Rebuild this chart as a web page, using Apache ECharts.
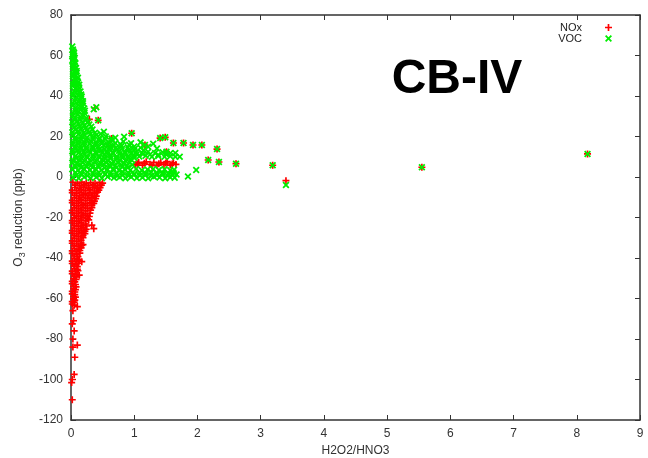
<!DOCTYPE html>
<html><head><meta charset="utf-8">
<script src="https://cdn.jsdelivr.net/npm/echarts@6/dist/echarts.min.js"></script>
<style>html,body{margin:0;padding:0;background:#fff}#c{width:648px;height:458px}</style>
</head><body><div id="c"></div>
<script>
const seriesNames = ['NOx', 'VOC'];
const xAxisName = 'H2O2/HNO3';
const chartLabel = 'CB-IV';
const xMin = 0, xMax = 9, xStep = 1;
const yMin = -120, yMax = 80, yStep = 20;

const noxPoints = [
  [0.38,34.0],[0.29,28.5],[0.43,28.0],[0.62,15.0],[0.64,19.0],[0.96,21.6],[1.17,15.8],[1.41,19.2],[1.49,19.6],[1.51,12.5],
  [1.62,16.8],[1.78,16.8],[1.93,15.8],[2.07,15.8],[2.31,13.8],[2.17,8.4],[2.34,7.4],[2.61,6.6],[3.19,5.8],[3.40,-1.8],
  [5.55,4.8],[8.17,11.4],
  [1.02,6.0],[1.07,7.2],[1.13,5.9],[1.19,7.5],[1.25,6.3],[1.31,7.3],[1.36,5.8],[1.42,7.1],[1.47,6.1],[1.52,7.6],[1.57,5.9],[1.62,7.0],[1.66,6.2],
  [1.05,6.6],[1.16,6.8],[1.28,5.6],[1.39,6.5],[1.50,6.9],[1.60,6.4],
  [0.03,-2.6],[0.10,-3.0],[0.17,-2.5],[0.24,-3.1],[0.31,-2.7],[0.38,-3.2],[0.45,-2.6],[0.50,-3.0],
  [0.07,-4.0],[0.14,-4.3],[0.21,-3.8],[0.28,-4.2],[0.35,-3.9],[0.42,-4.4],[0.48,-4.0],
  [0.06,-5.2],[0.13,-5.6],[0.20,-5.0],[0.27,-5.5],[0.34,-5.1],[0.41,-5.7],[0.46,-5.3],
  [0.02,-6.5],[0.09,-6.8],[0.16,-6.3],[0.23,-6.7],[0.30,-6.4],[0.37,-6.9],[0.44,-6.5],
  [0.02,-7.7],[0.09,-8.1],[0.16,-7.6],[0.23,-8.2],[0.30,-7.8],[0.37,-8.0],[0.42,-7.5],
  [0.06,-9.0],[0.13,-9.3],[0.20,-8.8],[0.27,-9.2],[0.34,-8.9],[0.40,-9.4],
  [0.05,-10.2],[0.12,-10.6],[0.19,-10.0],[0.26,-10.5],[0.33,-10.1],[0.39,-10.7],
  [0.02,-11.5],[0.09,-11.8],[0.16,-11.3],[0.23,-11.7],[0.30,-11.4],[0.37,-11.9],
  [0.02,-12.7],[0.09,-13.1],[0.16,-12.6],[0.23,-13.2],[0.30,-12.8],[0.36,-13.0],
  [0.05,-14.0],[0.12,-14.3],[0.19,-13.8],[0.26,-14.2],[0.33,-13.9],
  [0.05,-15.2],[0.12,-15.6],[0.19,-15.0],[0.26,-15.5],[0.33,-15.1],
  [0.02,-16.5],[0.09,-16.8],[0.16,-16.3],[0.23,-16.7],[0.31,-16.4],
  [0.02,-17.7],[0.09,-18.1],[0.16,-17.6],[0.23,-18.2],[0.30,-17.8],
  [0.05,-19.0],[0.12,-19.3],[0.19,-18.8],[0.26,-19.2],
  [0.05,-20.2],[0.12,-20.6],[0.19,-20.0],[0.26,-20.5],[0.29,-19.5],
  [0.02,-21.5],[0.09,-21.8],[0.16,-21.3],[0.23,-21.7],[0.28,-21.2],
  [0.02,-22.7],[0.09,-23.1],[0.16,-22.6],[0.23,-23.2],[0.33,-23.8],
  [0.05,-24.0],[0.12,-24.3],[0.19,-23.8],[0.25,-24.2],
  [0.05,-25.2],[0.12,-25.6],[0.19,-25.0],[0.24,-25.8],[0.36,-25.5],
  [0.02,-26.5],[0.09,-26.8],[0.16,-26.3],[0.22,-26.7],
  [0.02,-27.7],[0.09,-28.1],[0.16,-27.6],[0.22,-28.0],
  [0.05,-29.0],[0.12,-29.3],[0.19,-28.8],
  [0.05,-30.2],[0.12,-30.6],[0.19,-30.0],
  [0.02,-31.5],[0.09,-31.8],[0.16,-31.3],
  [0.02,-32.7],[0.09,-33.1],[0.16,-32.6],[0.19,-33.4],
  [0.05,-34.0],[0.12,-34.3],[0.17,-33.8],
  [0.05,-35.2],[0.12,-35.6],[0.16,-35.0],
  [0.02,-36.5],[0.08,-36.8],[0.14,-36.3],
  [0.02,-37.7],[0.09,-38.1],[0.14,-37.6],
  [0.05,-39.0],[0.11,-39.3],
  [0.05,-40.2],[0.11,-40.6],[0.17,-41.8],
  [0.02,-41.5],[0.08,-41.8],[0.13,-41.2],
  [0.02,-42.7],[0.08,-43.1],[0.12,-42.6],
  [0.05,-44.0],[0.10,-44.3],
  [0.05,-45.2],[0.10,-45.6],
  [0.02,-46.5],[0.07,-46.8],[0.11,-46.3],
  [0.02,-47.7],[0.08,-48.1],[0.13,-48.5],
  [0.05,-49.0],[0.09,-49.3],
  [0.04,-50.2],[0.08,-50.6],
  [0.02,-51.5],[0.06,-51.8],
  [0.02,-52.7],[0.07,-53.1],
  [0.04,-54.0],[0.08,-54.3],
  [0.04,-55.2],[0.07,-55.6],
  [0.02,-56.5],[0.06,-56.8],
  [0.02,-57.7],[0.06,-58.1],
  [0.04,-59.0],[0.07,-59.3],
  [0.04,-60.2],[0.06,-60.8],
  [0.02,-61.5],[0.05,-61.8],
  [0.02,-62.7],[0.05,-63.3],[0.10,-64.0],
  [0.03,-66.0],[0.04,-71.0],[0.02,-72.5],[0.05,-76.0],[0.03,-80.0],[0.10,-83.0],[0.03,-84.0],[0.06,-89.0],
  [0.05,-97.5],[0.02,-100.0],[0.01,-101.5],[0.02,-110.0]
];

const vocPoints = [
  [0.03,-0.2],[0.12,-0.6],[0.21,0.0],[0.31,-0.5],[0.40,-0.1],[0.49,-0.6],[0.58,0.1],[0.68,-0.4],[0.77,-0.1],[0.86,-0.6],
  [0.95,0.0],[1.04,-0.5],[1.13,-0.2],[1.22,-0.6],[1.31,0.1],[1.40,-0.3],[1.49,-0.6],[1.57,-0.1],[1.64,-0.4],
  [0.08,0.8],[0.17,1.1],[0.26,0.6],[0.36,1.0],[0.45,0.7],[0.54,1.2],[0.63,0.8],[0.73,0.5],[0.82,1.0],[0.91,0.6],
  [1.00,1.1],[1.09,0.7],[1.18,1.0],[1.27,0.5],[1.36,0.9],[1.45,1.2],[1.53,0.6],[1.61,1.0],
  [0.07,2.1],[0.16,1.7],[0.26,2.3],[0.35,1.8],[0.44,2.2],[0.54,1.6],[0.63,2.1],[0.72,1.7],[0.82,2.4],[0.91,1.9],
  [1.00,1.6],[1.09,2.2],[1.18,1.8],[1.27,2.3],[1.36,1.7],[1.45,2.1],[1.54,1.6],[1.62,2.2],[1.67,1.2],
  [0.02,3.8],[0.11,3.4],[0.20,4.0],[0.30,3.5],[0.39,3.9],[0.48,3.3],[0.57,3.7],[0.67,4.1],[0.76,3.4],[0.85,3.8],
  [0.94,3.5],[1.03,3.9],[1.12,3.3],[1.21,3.7],[1.30,4.0],[1.39,3.4],[1.48,3.8],[1.57,3.3],[1.63,3.6],
  [0.07,4.8],[0.16,4.6],[0.25,5.0],[0.34,4.7],[0.44,4.9],[0.53,4.5],[0.62,4.9],[0.72,4.7],[0.81,5.0],[0.90,4.6],
  [0.06,5.8],[0.15,6.2],[0.24,5.6],[0.33,6.1],[0.43,5.7],[0.52,6.3],[0.61,5.9],[0.70,5.5],[0.80,6.1],[0.89,5.7],[0.97,6.0],
  [0.02,7.0],[0.10,6.8],[0.19,7.2],[0.28,6.9],[0.38,7.3],[0.47,6.8],[0.56,7.1],[0.65,6.7],[0.74,7.2],[0.84,6.9],[0.93,7.1],
  [0.03,8.1],[0.12,8.5],[0.21,7.9],[0.30,8.4],[0.40,7.8],[0.49,8.6],[0.58,8.1],[0.67,7.7],[0.77,8.4],[0.86,8.0],[0.95,8.6],
  [0.08,9.3],[0.17,9.1],[0.26,9.5],[0.36,9.2],[0.45,9.6],[0.54,9.1],[0.63,9.4],[0.72,9.0],[0.82,9.5],[0.91,9.2],[1.00,9.4],
  [0.07,10.4],[0.16,10.9],[0.25,10.2],[0.35,10.7],[0.44,10.3],[0.53,11.0],[0.62,10.5],[0.72,10.1],[0.81,10.8],[0.90,10.2],
  [0.99,10.6],[1.08,10.1],[1.18,10.5],[1.28,10.0],[1.38,10.4],[1.48,10.0],[1.57,10.3],[1.65,10.0],
  [0.03,11.6],[0.12,11.9],[0.21,11.4],[0.30,11.8],[0.40,11.5],[0.49,11.9],[0.58,11.4],[0.67,11.7],[0.77,11.3],[0.86,11.8],
  [0.95,11.5],[1.04,11.2],[1.14,11.4],[1.25,11.1],[1.38,11.0],[1.50,11.3],
  [0.02,12.7],[0.11,13.2],[0.20,12.5],[0.29,13.0],[0.39,12.4],[0.48,13.1],[0.57,12.6],[0.66,12.2],[0.76,12.9],[0.85,12.4],
  [0.94,13.0],[1.03,12.3],[1.12,12.0],[1.22,12.5],[1.33,11.9],[1.45,12.2],[1.57,11.7],
  [0.07,13.9],[0.16,14.2],[0.25,13.7],[0.35,14.1],[0.44,13.6],[0.53,14.0],[0.62,13.7],[0.72,13.4],[0.81,14.0],[0.91,13.5],
  [1.01,13.9],[1.15,13.3],
  [0.06,15.0],[0.15,15.4],[0.24,14.7],[0.34,15.2],[0.43,14.8],[0.52,15.5],[0.61,14.9],[0.71,14.5],[0.80,15.3],[0.90,14.6],
  [1.00,15.1],[1.10,14.4],[1.22,14.9],[1.36,14.1],
  [0.03,16.1],[0.12,16.4],[0.21,15.9],[0.30,16.3],[0.40,16.0],[0.49,16.5],[0.58,16.1],[0.68,15.8],[0.78,16.3],[0.92,15.9],
  [0.03,17.3],[0.12,17.8],[0.21,17.1],[0.31,17.6],[0.40,17.0],[0.49,17.7],[0.59,17.2],[0.70,16.8],[0.83,17.5],[0.95,16.7],
  [1.10,17.1],[1.30,16.4],
  [0.07,18.4],[0.16,18.7],[0.25,18.2],[0.35,18.6],[0.44,18.3],[0.54,18.8],[0.65,18.2],
  [0.07,19.6],[0.16,20.1],[0.25,19.4],[0.35,19.9],[0.45,19.3],[0.55,20.0],[0.70,19.4],[0.84,19.9],
  [0.03,20.8],[0.12,21.1],[0.21,20.6],[0.30,21.0],[0.40,20.7],[0.47,21.3],
  [0.02,22.1],[0.11,22.6],[0.20,21.9],[0.29,22.4],[0.38,21.8],[0.52,22.3],
  [0.07,23.3],[0.16,23.6],[0.25,23.1],[0.34,23.5],
  [0.05,24.5],[0.14,25.0],[0.23,24.3],[0.32,24.8],
  [0.03,25.7],[0.12,26.0],[0.21,25.5],[0.29,25.9],
  [0.02,27.0],[0.10,27.4],[0.19,26.8],[0.27,27.2],
  [0.06,28.1],[0.15,28.4],[0.23,28.0],
  [0.06,29.3],[0.15,29.8],[0.24,29.1],
  [0.03,30.4],[0.11,30.7],[0.20,30.3],
  [0.03,31.7],[0.12,32.2],[0.21,31.6],
  [0.07,32.9],[0.15,33.2],[0.22,32.7],
  [0.07,34.1],[0.16,34.6],[0.21,33.8],
  [0.03,35.3],[0.11,35.6],[0.18,35.1],
  [0.03,36.5],[0.12,37.0],[0.19,36.4],
  [0.06,37.7],[0.14,38.0],[0.19,37.4],
  [0.07,38.9],[0.16,39.4],
  [0.03,40.1],[0.11,40.4],[0.17,39.8],
  [0.03,41.3],[0.12,41.8],[0.16,40.8],
  [0.05,42.5],[0.11,42.8],[0.15,42.2],
  [0.07,43.7],[0.13,44.2],
  [0.03,44.9],[0.09,45.2],[0.13,45.6],
  [0.03,46.1],[0.11,46.6],
  [0.05,47.3],[0.10,47.6],
  [0.06,48.5],[0.11,49.0],
  [0.03,49.7],[0.08,50.0],
  [0.03,50.9],[0.09,51.4],
  [0.05,52.1],[0.09,52.4],
  [0.05,53.3],[0.08,53.8],
  [0.03,54.5],[0.06,54.8],
  [0.03,55.7],[0.07,56.2],
  [0.05,56.9],[0.02,57.4],
  [0.04,58.1],[0.06,58.8],
  [0.03,59.4],[0.05,60.0],
  [0.02,60.5],[0.05,61.2],[0.04,62.0],[0.03,63.0],[0.02,64.5],
  [0.36,33.5],[0.40,34.5],[0.43,28.0],[0.62,15.0],[0.64,19.0],[0.96,21.6],[1.17,15.8],[1.41,19.2],[1.49,19.6],[1.51,12.5],
  [1.62,16.8],[1.78,16.8],[1.93,15.8],[2.07,15.8],[2.31,13.8],[2.17,8.4],[2.34,7.4],[2.61,6.6],[3.19,5.8],[3.40,-4.0],
  [5.55,4.8],[8.17,11.4],[1.85,0.2],[1.98,3.5],[1.72,10.0],[1.65,11.8]
];

const FONT = 'Liberation Sans';
const plusPath = 'path://M0,3.8H10V6.2H0Z M3.8,0H6.2V10H3.8Z';
const crossPath = 'path://M1.8,0L5,3.2L8.2,0L10,1.8L6.8,5L10,8.2L8.2,10L5,6.8L1.8,10L0,8.2L3.2,5L0,1.8Z';
const axisColor = '#333';

function xAx(pos, showLabel) {
  return {
    type: 'value', min: xMin, max: xMax, interval: xStep, position: pos,
    axisLine: { onZero: false, lineStyle: { color: axisColor, width: 1.5 } },
    axisTick: { inside: true, length: 5, lineStyle: { color: axisColor } },
    axisLabel: { show: showLabel, color: '#333', fontSize: 12, fontFamily: FONT, margin: 8 },
    splitLine: { show: false }
  };
}
function yAx(pos, showLabel) {
  return {
    type: 'value', min: yMin, max: yMax, interval: yStep, position: pos,
    axisLine: { onZero: false, lineStyle: { color: axisColor, width: 1.5 } },
    axisTick: { inside: true, length: 5, lineStyle: { color: axisColor } },
    axisLabel: { show: showLabel, color: '#333', fontSize: 12, fontFamily: FONT, margin: 8 },
    splitLine: { show: false }
  };
}

const xA0 = xAx('bottom', true);
xA0.name = xAxisName;
xA0.nameLocation = 'middle';
xA0.nameGap = 20;
xA0.nameTextStyle = { color: '#333', fontSize: 12, fontFamily: FONT };
const yA0 = yAx('left', true);
yA0.name = '{a|O}{s|3}{a| reduction (ppb)}';
yA0.nameLocation = 'middle';
yA0.nameGap = 45;
yA0.nameTextStyle = {
  color: '#333', fontFamily: FONT,
  rich: {
    a: { fontSize: 12, lineHeight: 14, color: '#333', fontFamily: FONT },
    s: { fontSize: 9, lineHeight: 9, padding: [7, 0, 0, 0], color: '#333', fontFamily: FONT }
  }
};

const chart = echarts.init(document.getElementById('c'), null, { renderer: 'canvas' });
chart.setOption({
  animation: false,
  backgroundColor: '#fff',
  grid: { left: 71, right: 8, top: 15, bottom: 38, containLabel: false, outerBoundsMode: 'none' },
  xAxis: [xA0, xAx('top', false)],
  yAxis: [yA0, yAx('right', false)],
  legend: {
    orient: 'vertical', right: 36, top: 22, align: 'right', padding: 0, itemGap: 0,
    itemWidth: 7, itemHeight: 7,
    textStyle: { fontSize: 11, color: '#222', fontFamily: FONT, lineHeight: 11, padding: [0, 18, 0, 0] },
    data: [{ name: seriesNames[0], icon: plusPath }, { name: seriesNames[1], icon: crossPath }]
  },
  graphic: [{
    type: 'text', x: 457, y: 80,
    style: { text: chartLabel, font: 'bold 48px "Liberation Sans"', fill: '#000', textAlign: 'center', textVerticalAlign: 'middle' }
  }],
  series: [
    { name: seriesNames[0], type: 'scatter', xAxisIndex: 0, yAxisIndex: 0, symbol: plusPath, symbolSize: 7,
      itemStyle: { color: '#ff0000', opacity: 1 }, data: noxPoints, clip: false },
    { name: seriesNames[1], type: 'scatter', xAxisIndex: 0, yAxisIndex: 0, symbol: crossPath, symbolSize: 7,
      itemStyle: { color: '#00ee00', opacity: 1 }, data: vocPoints, clip: false }
  ]
});
</script></body></html>
